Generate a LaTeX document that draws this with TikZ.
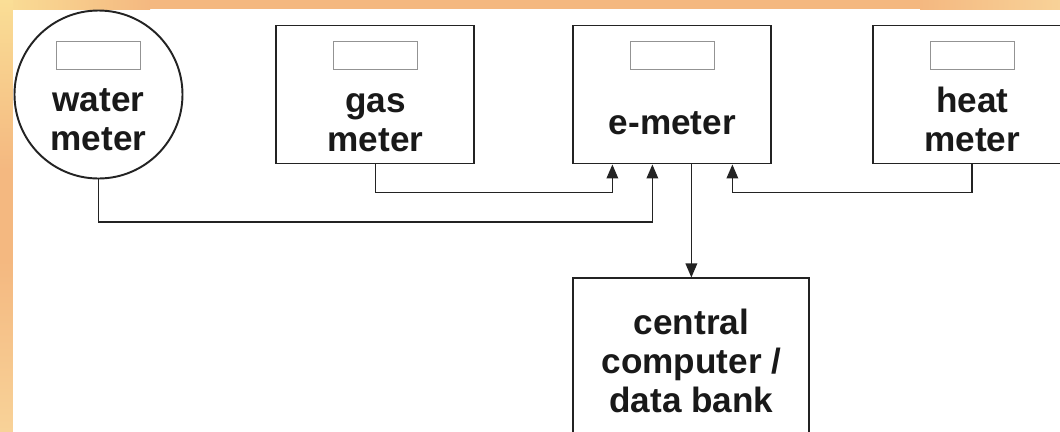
\documentclass[tikz,border=0pt]{standalone}
\usepackage{fontspec}
\setmainfont{Liberation Sans}
\usetikzlibrary{positioning,arrows.meta,calc}
\definecolor{fyellow}{RGB}{250,222,150}
\definecolor{forange}{RGB}{244,184,128}
\definecolor{flight}{RGB}{248,210,152}
\definecolor{ink}{RGB}{35,35,35}

\begin{document}
\begin{tikzpicture}[>={Triangle[length=2.8mm,width=2.3mm]},node distance=2.26cm and 2cm]
\tikzstyle{M}=[draw=ink,line width=1.1pt,minimum width=3.96cm,minimum height=2.76cm,inner sep=0pt]
\tikzstyle{W}=[M,circle,minimum size=3.36cm]
\tikzstyle{D}=[draw=gray!85,line width=0.6pt,minimum width=1.68cm,minimum height=0.56cm,inner sep=0pt]
\tikzstyle{T}=[align=center,font=\fontsize{20}{22}\selectfont\bfseries,text=black!90,inner sep=0pt]
\tikzstyle{C}=[draw=ink,line width=1pt,->]
\useasboundingbox (0,0) rectangle (21.2,-8.62);
\clip (0,0) rectangle (21.2,-8.62);
% frame
\fill[white] (0,0) rectangle (21.2,-8.62);
\shade[left color=fyellow,right color=forange] (0,0) rectangle (3,-0.18);
\fill[forange] (3,0) rectangle (18.4,-0.18);
\shade[left color=forange,right color=flight] (18.4,0) rectangle (21.2,-0.18);
\shade[top color=fyellow,bottom color=forange] (0,0) rectangle (0.26,-3.4);
\fill[forange] (0,-3.4) rectangle (0.26,-5.2);
\shade[top color=forange,bottom color=flight] (0,-5.2) rectangle (0.26,-8.62);
% meters
\node[W] (water) at (1.97,-1.89) {};
\node[D] (waterd) at ([yshift=-0.92cm]water.north) {};
\node[T] (watert) at ([yshift=-0.5cm]water.center) {water\\meter};
\node[M,right=1.84cm of water] (gas) {};
\node[D] (gasd) at ([yshift=-0.62cm]gas.north) {};
\node[T] (gast) at ([yshift=-0.56cm]gas.center) {gas\\meter};
\node[M,right=1.94cm of gas] (emeter) {};
\node[D] (emeterd) at ([yshift=-0.62cm]emeter.north) {};
\node[T] (emetert) at ([yshift=-0.58cm]emeter.center) {e-meter};
\node[M,right=of emeter] (heat) {};
\node[D] (heatd) at ([yshift=-0.62cm]heat.north) {};
\node[T] (heatt) at ([yshift=-0.5cm]heat.center) {heat\\meter};
\node[M,T,minimum width=4.72cm,minimum height=3.3cm,below right=2.26cm and 0cm of emeter.south west] (central) {central\\computer /\\data bank};
% lines
\coordinate (win) at ([xshift=-0.4cm]emeter.south);
\coordinate (gin) at ([xshift=-1.2cm]emeter.south);
\coordinate (hin) at ([xshift=1.2cm]emeter.south);
\draw[C] (water.south) -- ++(0,-0.85) -| (win);
\draw[C] (gas.south) -- ++(0,-0.56) -| (gin);
\draw[C] (heat.south) -- ++(0,-0.56) -| (hin);
\draw[C] (emeter.south -| central.north) -- (central.north);
\end{tikzpicture}
\end{document}
